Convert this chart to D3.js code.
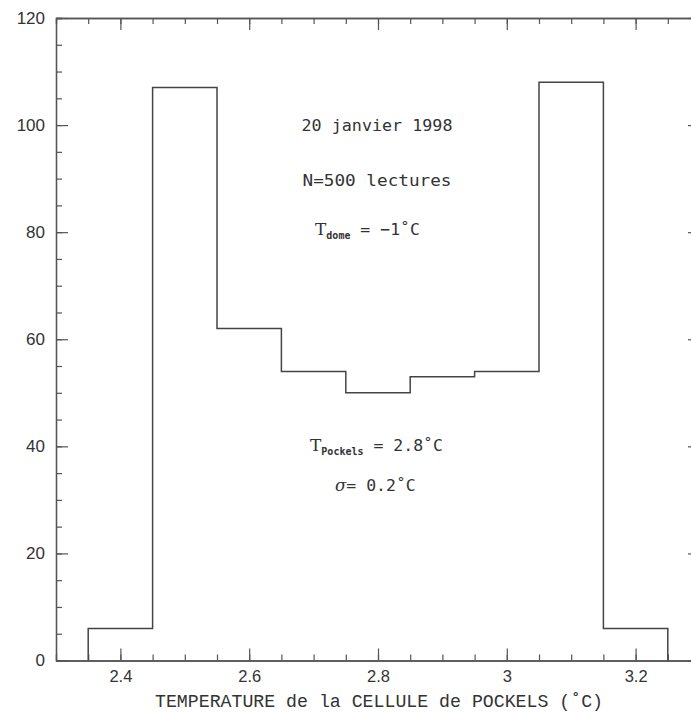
<!DOCTYPE html>
<html>
<head>
<meta charset="utf-8">
<script src="https://cdn.jsdelivr.net/npm/d3@7"></script>
<style>
  html, body { margin: 0; padding: 0; background: #fff; }
  svg { display: block; }
</style>
</head>
<body>
<svg id="chart" width="691" height="713"></svg>
<script>
// ---- data ----
const binEdges = [2.35, 2.45, 2.55, 2.65, 2.75, 2.85, 2.95, 3.05, 3.15, 3.25];
const counts = [6, 107, 62, 54, 50, 53, 54, 108, 6];
const xMajorTicks = [2.4, 2.6, 2.8, 3.0, 3.2];
const xTickLabels = ["2.4", "2.6", "2.8", "3", "3.2"];
const yMajorTicks = [0, 20, 40, 60, 80, 100, 120];
const yTickLabels = ["0", "20", "40", "60", "80", "100", "120"];
const xDomain = [2.3, 3.3];
const yDomain = [0, 120];
const xTitle = "TEMPERATURE de la CELLULE de POCKELS (\u02DAC)";

// ---- layout ----
const svg = d3.select("#chart");
const L = 56, R = 700, T = 18, B = 660.5;
const x = d3.scaleLinear().domain(xDomain).range([L, R]);
const y = d3.scaleLinear().domain(yDomain).range([B, T]);
const frameColor = "#555";
const tickFont = "'Liberation Sans', Arial, sans-serif";

svg.append("rect").attr("width", 691).attr("height", 713).attr("fill", "#fff");

function styleAxis(g) {
  g.selectAll("path").attr("stroke", frameColor).attr("stroke-width", 1.3);
  g.selectAll("line").attr("stroke", frameColor).attr("stroke-width", 1.2);
  g.selectAll("text").attr("fill", "#333").attr("font-family", tickFont);
}

const xMinor = x.ticks(20);
const yMinor = y.ticks(24);

// bottom axis
svg.append("g").attr("transform", `translate(0,${B})`)
  .call(d3.axisBottom(x).tickValues(xMinor).tickSize(-6).tickFormat(""))
  .call(styleAxis);
svg.append("g").attr("transform", `translate(0,${B})`)
  .call(d3.axisBottom(x).tickValues(xMajorTicks).tickSizeInner(-12).tickSizeOuter(0)
        .tickPadding(10).tickFormat((d, i) => xTickLabels[i]))
  .call(styleAxis)
  .call(g => g.selectAll("text").attr("font-size", 16.5));
// top axis
svg.append("g").attr("transform", `translate(0,${T})`)
  .call(d3.axisTop(x).tickValues(xMinor).tickSize(-6).tickFormat(""))
  .call(styleAxis);
svg.append("g").attr("transform", `translate(0,${T})`)
  .call(d3.axisTop(x).tickValues(xMajorTicks).tickSizeInner(-12).tickSizeOuter(0).tickFormat(""))
  .call(styleAxis);
// left axis
svg.append("g").attr("transform", `translate(${L},0)`)
  .call(d3.axisLeft(y).tickValues(yMinor).tickSize(-6).tickFormat(""))
  .call(styleAxis);
svg.append("g").attr("transform", `translate(${L},0)`)
  .call(d3.axisLeft(y).tickValues(yMajorTicks).tickSizeInner(-12).tickSizeOuter(0)
        .tickPadding(11).tickFormat((d, i) => yTickLabels[i]))
  .call(styleAxis)
  .call(g => g.selectAll("text").attr("font-size", 17));
// right axis
svg.append("g").attr("transform", `translate(${R},0)`)
  .call(d3.axisRight(y).tickValues(yMinor).tickSize(-6).tickFormat(""))
  .call(styleAxis);
svg.append("g").attr("transform", `translate(${R},0)`)
  .call(d3.axisRight(y).tickValues(yMajorTicks).tickSizeInner(-12).tickSizeOuter(0).tickFormat(""))
  .call(styleAxis);

// ---- histogram ----
const pts = [[binEdges[0], 0]];
counts.forEach((c, i) => {
  pts.push([binEdges[i], c]);
  pts.push([binEdges[i + 1], c]);
});
pts.push([binEdges[binEdges.length - 1], 0]);
svg.append("path")
  .attr("d", d3.line().x(d => x(d[0])).y(d => y(d[1]))(pts))
  .attr("fill", "none")
  .attr("stroke", "#444")
  .attr("stroke-width", 1.5);

// ---- x title ----
svg.append("text")
  .attr("x", 379).attr("y", 707)
  .attr("text-anchor", "middle")
  .attr("font-family", "'Liberation Mono', 'Courier New', monospace")
  .attr("font-size", 18)
  .attr("textLength", 448).attr("lengthAdjust", "spacingAndGlyphs")
  .attr("fill", "#333")
  .text(xTitle);

// ---- annotations ----
const annFont = "'DejaVu Sans Mono', monospace";
const serifFont = "'DejaVu Serif', 'Liberation Serif', serif";
function ann(xc, yb, width) {
  return svg.append("text")
    .attr("x", xc).attr("y", yb)
    .attr("text-anchor", "middle")
    .attr("font-family", annFont)
    .attr("font-size", 16.5)
    .attr("fill", "#333")
    .attr("textLength", width).attr("lengthAdjust", "spacingAndGlyphs");
}
ann(377, 131, 151).text("20 janvier 1998");
ann(377, 186, 149).text("N=500 lectures");

const t1 = svg.append("text").attr("x", 315).attr("y", 235)
  .attr("font-family", annFont).attr("font-size", 16.5).attr("fill", "#333");
t1.append("tspan").attr("font-family", serifFont).attr("font-size", 17).text("T");
t1.append("tspan").attr("font-size", 10).attr("font-weight", "bold").attr("dy", 4).text("dome");
t1.append("tspan").attr("dy", -4).text(" = \u22121\u02DAC");

const t2 = svg.append("text").attr("x", 310).attr("y", 451)
  .attr("font-family", annFont).attr("font-size", 16.5).attr("fill", "#333");
t2.append("tspan").attr("font-family", serifFont).attr("font-size", 17).text("T");
t2.append("tspan").attr("font-size", 10).attr("font-weight", "bold").attr("dy", 4).text("Pockels");
t2.append("tspan").attr("dy", -4).text(" = 2.8\u02DAC");

const t3 = svg.append("text").attr("x", 335).attr("y", 491)
  .attr("font-family", annFont).attr("font-size", 16.5).attr("fill", "#333");
t3.append("tspan").attr("font-family", serifFont).attr("font-style", "italic").text("\u03C3");
t3.append("tspan").text("= 0.2\u02DAC");
</script>
</body>
</html>
